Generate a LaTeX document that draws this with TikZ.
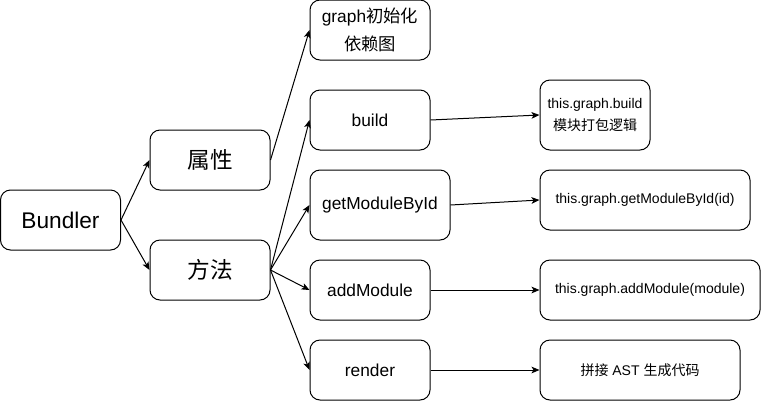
\documentclass[tikz,border=0pt]{standalone}
\usepackage{fontspec}
\setmainfont{Liberation Sans}
\newfontfamily\cjk{Noto Sans CJK SC}
\usetikzlibrary{arrows.meta, positioning}

\begin{document}
\begin{tikzpicture}[
    x=0.75pt, y=-0.75pt,
    box/.style={draw, rounded corners=7.5pt, line width=0.75pt,
                minimum width=90pt, minimum height=45pt, inner sep=0pt,
                align=center, font=\fontsize{13}{21}\selectfont},
    big/.style={font=\fontsize{17}{20}\selectfont},
    small/.style={font=\fontsize{10.5}{17}\selectfont},
    arrow/.style={-{Stealth[length=6pt, width=5pt, inset=1.5pt]}, line width=0.75pt},
]
    \useasboundingbox (0,0) rectangle (761,401);

    % root and its two branches
    \node[box, big] (bundler) at (60.5,220) {Bundler};
    \node[box, big] (attr)    at (210,160)  {\cjk 属性};
    \node[box, big] (method)  at (210,270)  {\cjk 方法};

    % members
    \node[box] (graphinit) at (370,30)  {graph{\cjk 初始化}\\{\cjk 依赖图}};
    \node[box] (build)     at (370,120) {build};
    \node[box, minimum width=105pt, minimum height=52.5pt] (getbyid) at (380,205) {getModuleById};
    \node[box] (addmod)    at (370,290) {addModule};
    \node[box] (render)    at (370,370) {render};

    % what each method does
    \node[box, small, minimum width=82.5pt, minimum height=52.5pt] (buildimpl) at (595,115)
        {this.graph.build\\{\cjk 模块打包逻辑}};
    \node[box, small, minimum width=157.5pt] (getimpl)    at (645,200) {this.graph.getModuleById(id)};
    \node[box, small, minimum width=165pt]   (addimpl)    at (650,290) {this.graph.addModule(module)};
    \node[box, small, minimum width=150pt]   (renderimpl) at (640,370) {{\cjk 拼接} AST {\cjk 生成代码}};

    \foreach \a/\b in {bundler/attr, bundler/method, attr/graphinit,
                       method/build, method/getbyid, method/addmod, method/render,
                       build/buildimpl, getbyid/getimpl, addmod/addimpl, render/renderimpl}
        \draw[arrow] (\a.east) -- (\b.west);
\end{tikzpicture}
\end{document}
